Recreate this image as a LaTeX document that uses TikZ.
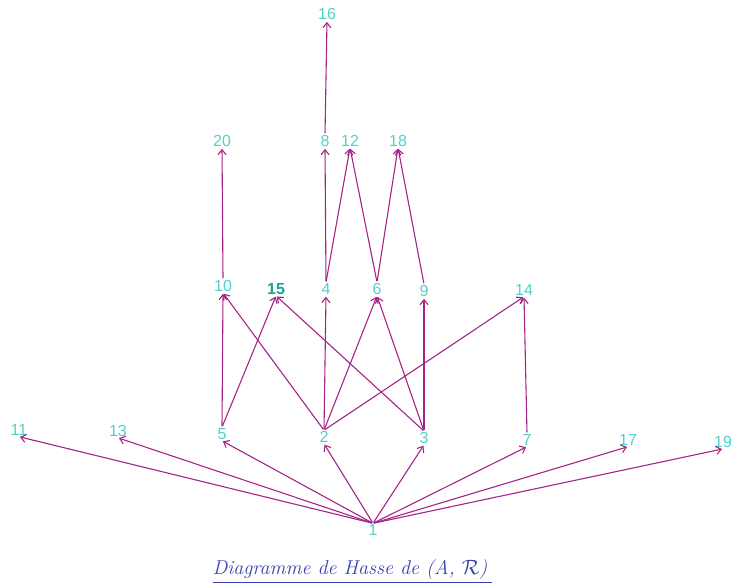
\documentclass[tikz,border=0pt]{standalone}
\usepackage{fontspec}
\setmainfont{Liberation Sans}
\newfontfamily\titlefont{Latin Modern Roman}
\usetikzlibrary{arrows.meta}
\definecolor{edgecol}{RGB}{165,35,135}
\definecolor{labcol}{RGB}{80,210,200}
\definecolor{labdark}{RGB}{25,165,145}
\definecolor{titlecol}{RGB}{55,65,175}
\begin{document}
\begin{tikzpicture}[x=1pt,y=-1pt,
  elem/.style={text=labcol,inner sep=1pt,font=\fontsize{16}{18}\selectfont},
  rel/.style={draw=edgecol,line width=1.1pt,-{Straight Barb[length=5pt,width=8pt]},shorten >=1pt,shorten <=1pt}]
\useasboundingbox (0,0) rectangle (735,588);
% top
\node[elem] (n16) at (327,14) {16};
% level 3
\node[elem] (n20) at (222,141) {20};
\node[elem] (n8) at (325,141) {8};
\node[elem] (n12) at (350,141) {12};
\node[elem] (n18) at (398,141) {18};
% level 2
\node[elem] (n10) at (223,286) {10};
\node[elem,text=labdark,font=\fontsize{16}{18}\selectfont\bfseries] (n15) at (276,289) {15};
\node[elem] (n4) at (326,289) {4};
\node[elem] (n6) at (377,289) {6};
\node[elem] (n9) at (424,291) {9};
\node[elem] (n14) at (524,290) {14};
% level 1
\node[elem] (n11) at (19,430) {11};
\node[elem] (n13) at (118,431) {13};
\node[elem] (n5) at (222,434) {5};
\node[elem] (n2) at (324,437) {2};
\node[elem] (n3) at (424,438) {3};
\node[elem] (n7) at (527,440) {7};
\node[elem] (n17) at (628,440) {17};
\node[elem] (n19) at (723,442) {19};
% bottom
\node[elem] (n1) at (373,530) {1};
% edges from 1
\foreach \t in {11,13,5,2,3,7,17,19}
  \draw[rel] (n1.north) -- (n\t.south);
% level 1 -> level 2
\draw[rel] (n5.north) -- (n10.south);
\draw[rel] (n5.north) -- (n15.south);
\draw[rel] (n2.north) -- (n10.south);
\draw[rel] (n3.north) -- (n15.south);
\draw[rel] (n2.north) -- (n4.south);
\draw[rel] (n2.north) -- (n6.south);
\draw[rel] (n3.north) -- (n6.south);
\draw[rel] (n3.north) -- (n9.south);
\draw[rel] (n2.north) -- (n14.south);
\draw[rel] (n7.north) -- (n14.south);
% level 2 -> level 3
\draw[rel] (n10.north) -- (n20.south);
\draw[rel] (n4.north) -- (n8.south);
\draw[rel] (n4.north) -- (n12.south);
\draw[rel] (n6.north) -- (n12.south);
\draw[rel] (n6.north) -- (n18.south);
\draw[rel] (n9.north) -- (n18.south);
% level 3 -> top
\draw[rel] (n8.north) -- (n16.south);
% title
\node[text=titlecol,font=\titlefont\itshape\fontsize{20}{24}\selectfont,inner sep=0pt] (title) at (350,570) {Diagramme de Hasse de (A, $\mathcal{R}$)};
\draw[titlecol,line width=1pt] (213,582) -- (492,582);
\end{tikzpicture}
\end{document}
